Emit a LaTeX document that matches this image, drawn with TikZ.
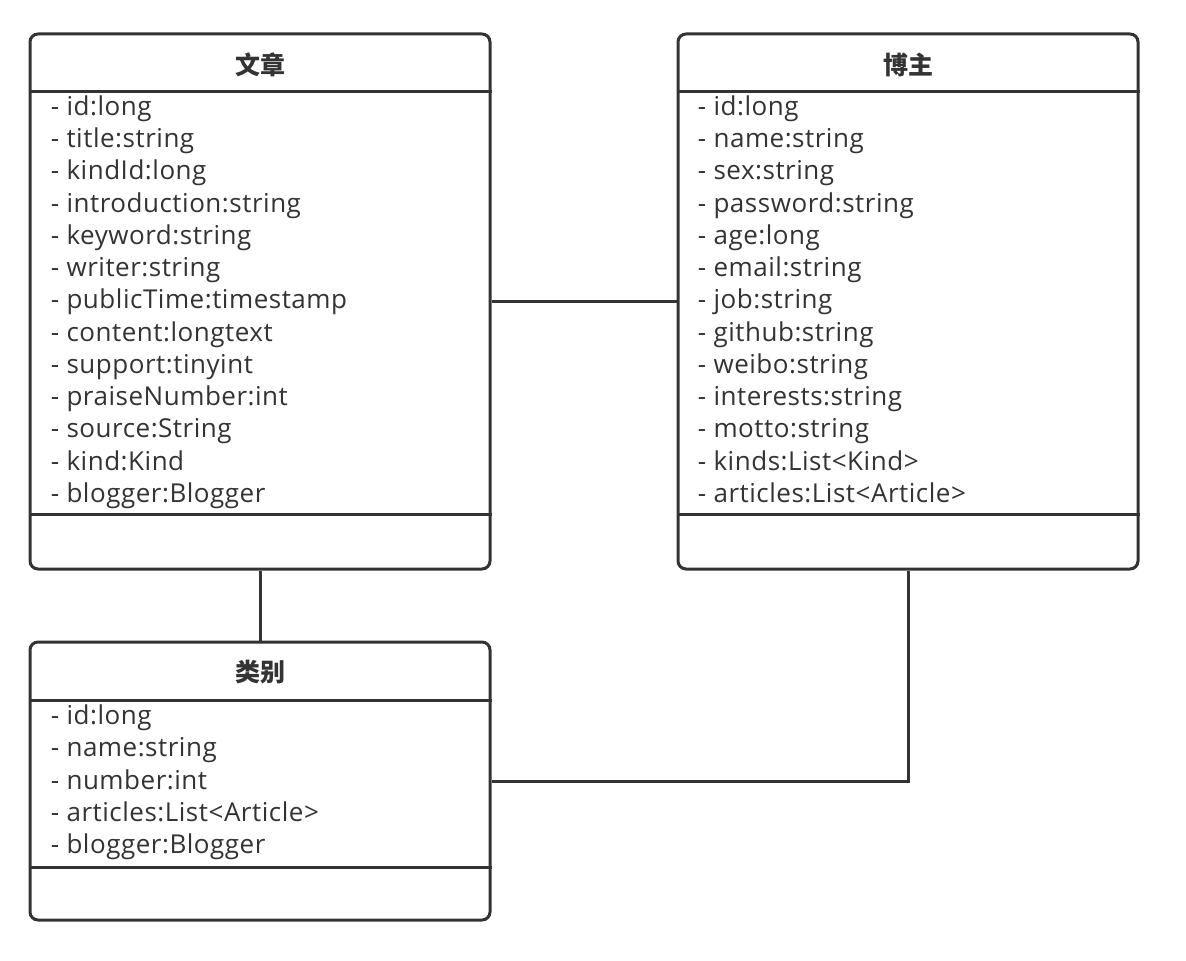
\documentclass[tikz,border=0pt]{standalone}
\usepackage{fontspec}
\setmainfont{Open Sans}[LetterSpace=2]
\newfontfamily\cjk{Noto Sans CJK SC}
\usetikzlibrary{positioning}
\definecolor{umlgray}{HTML}{333333}
\tikzstyle{classbox} = [rectangle, rounded corners=4pt, draw=umlgray, line width=1.5pt, minimum width=230pt, inner sep=0pt]
\tikzstyle{classtitle} = [font=\cjk\bfseries\fontsize{12.5}{15}\selectfont, text=umlgray, inner sep=0pt]
\tikzstyle{attr} = [font=\fontsize{13}{16}\selectfont, text=umlgray, inner sep=0pt, anchor=base west]
\tikzstyle{divider} = [draw=umlgray, line width=1.5pt]
\tikzstyle{link} = [draw=umlgray, line width=1.5pt]

\begin{document}
\begin{tikzpicture}[x=0.5pt, y=-0.5pt, node distance=324pt and 239.75pt, on grid]
    \useasboundingbox (0,0) rectangle (1186,961);
    % Class boxes
    \node[classbox, minimum height=267.5pt] (article) at (260,301.5) {};
    \node[classbox, minimum height=267.5pt, right=324pt of article] (blogger) {};
    \node[classbox, minimum height=139pt, below=239.75pt of article] (kind) {};

    % Titles
    \node[classtitle] (article-title) at ([yshift=-16pt]article.north) {文章};
    \node[classtitle] (blogger-title) at ([yshift=-16pt]blogger.north) {博主};
    \node[classtitle] (kind-title) at ([yshift=-15.75pt]kind.north) {类别};

    % Compartment lines
    \draw[divider] ([yshift=-29.5pt]article.north west) -- ([yshift=-29.5pt]article.north east);
    \draw[divider] ([yshift=28pt]article.south west) -- ([yshift=28pt]article.south east);
    \draw[divider] ([yshift=-29.5pt]blogger.north west) -- ([yshift=-29.5pt]blogger.north east);
    \draw[divider] ([yshift=28pt]blogger.south west) -- ([yshift=28pt]blogger.south east);
    \draw[divider] ([yshift=-30pt]kind.north west) -- ([yshift=-30pt]kind.north east);
    \draw[divider] ([yshift=27pt]kind.south west) -- ([yshift=27pt]kind.south east);

    % Attributes
    \foreach \t [count=\i] in {- id:long, - title:string, - kindId:long, - introduction:string, - keyword:string, - writer:string, - publicTime:timestamp, - content:longtext, - support:tinyint, - praiseNumber:int, - source:String, - kind:Kind, - blogger:Blogger}
        \node[attr] (article-\i) at ([xshift=11pt, yshift={-41.5pt-(\i-1)*16.125pt}]article.north west) {\t};
    \foreach \t [count=\i] in {- id:long, - name:string, - sex:string, - password:string, - age:long, - email:string, - job:string, - github:string, - weibo:string, - interests:string, - motto:string, - kinds:List<Kind>, - articles:List<Article>}
        \node[attr] (blogger-\i) at ([xshift=10.5pt, yshift={-41.5pt-(\i-1)*16.125pt}]blogger.north west) {\t};
    \foreach \t [count=\i] in {- id:long, - name:string, - number:int, - articles:List<Article>, - blogger:Blogger}
        \node[attr] (kind-\i) at ([xshift=11pt, yshift={-42pt-(\i-1)*16.125pt}]kind.north west) {\t};

    % Associations
    \draw[link] (article) -- (blogger);
    \draw[link] (article) -- (kind);
    \draw[link] (blogger.south) |- (kind.east);
\end{tikzpicture}
\end{document}
